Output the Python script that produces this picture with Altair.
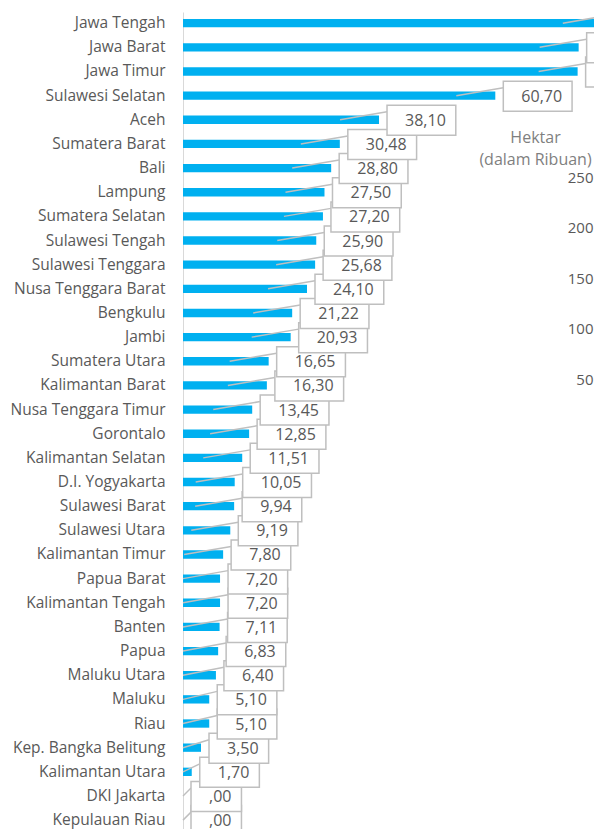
import altair as alt
import pandas as pd

provinces = [
    "Jawa Tengah", "Jawa Barat", "Jawa Timur", "Sulawesi Selatan", "Aceh",
    "Sumatera Barat", "Bali", "Lampung", "Sumatera Selatan", "Sulawesi Tengah",
    "Sulawesi Tenggara", "Nusa Tenggara Barat", "Bengkulu", "Jambi",
    "Sumatera Utara", "Kalimantan Barat", "Nusa Tenggara Timur", "Gorontalo",
    "Kalimantan Selatan", "D.I. Yogyakarta", "Sulawesi Barat", "Sulawesi Utara",
    "Kalimantan Timur", "Papua Barat", "Kalimantan Tengah", "Banten", "Papua",
    "Maluku Utara", "Maluku", "Riau", "Kep. Bangka Belitung",
    "Kalimantan Utara", "DKI Jakarta", "Kepulauan Riau",
]
values = [
    81.40, 76.90, 76.70, 60.70, 38.10,
    30.48, 28.80, 27.50, 27.20, 25.90,
    25.68, 24.10, 21.22, 20.93,
    16.65, 16.30, 13.45, 12.85,
    11.51, 10.05, 9.94, 9.19,
    7.80, 7.20, 7.20, 7.11, 6.83,
    6.40, 5.10, 5.10, 3.50,
    1.70, 0.00, 0.00,
]
hektar_ticks = [50, 100, 150, 200, 250]


def fmt(v):
    s = f"{v:.2f}".replace(".", ",")
    if s.startswith("0,"):
        s = s[1:]
    return s


labels = [fmt(v) for v in values]

# layout constants
PLOT_W = 411
PPU = 5.145               # pixels per data unit
X_MAX = PLOT_W / PPU
FONT = "Open Sans"
FS = 16
GREY_TXT = "#595959"
BOX_GREY = "#bfbfbf"
BAR_BLUE = "#00b0f0"


def text_w(s):
    return sum(0.26 * FS if c == "," else 0.572 * FS for c in s)


rows = []
for i, (p, v, l) in enumerate(zip(provinces, values, labels)):
    tw = text_w(l)
    rows.append(dict(
        prov=p, value=v, label=l, idx=i,
        box_x=v + 8 / PPU,
        box_x2=v + (8 + tw + 28) / PPU,
        text_x=v + (8 + tw + 18) / PPU,
        conn_x=max(v - 39 / PPU, 0.0),
    ))
df = pd.DataFrame(rows)
df_rev = df.iloc[::-1].reset_index(drop=True)

x_scale = alt.Scale(domain=[0, X_MAX], nice=False, zero=True)
y_scale = alt.Scale(range=[0, 819.3], paddingInner=0.655, paddingOuter=0.291)
y_axis = alt.Axis(
    title=None, ticks=False, tickSize=0, labelPadding=18, grid=False,
    domainColor="#d9d9d9", domainWidth=1, labelFont=FONT, labelFontSize=15.5,
    labelColor=GREY_TXT, labelLimit=300,
)


def y_enc():
    return alt.Y("prov:N", sort=provinces, scale=y_scale, axis=y_axis)


bars = alt.Chart(df).mark_bar(color=BAR_BLUE).encode(
    x=alt.X("value:Q", scale=x_scale, axis=None),
    y=y_enc(),
)

connectors = alt.Chart(df).mark_rule(
    color=BOX_GREY, strokeWidth=1.5, y2Offset=-8
).encode(
    x=alt.X("conn_x:Q", scale=x_scale, axis=None),
    x2="box_x:Q",
    y=y_enc(),
    y2="prov",
)

boxes = alt.Chart(df_rev).mark_bar(
    size=30, yOffset=0.5, fill="white", stroke=BOX_GREY, strokeWidth=1.5
).encode(
    x=alt.X("box_x:Q", scale=x_scale, axis=None),
    x2="box_x2:Q",
    y=y_enc(),
)

texts = alt.Chart(df).mark_text(
    align="right", baseline="middle", font=FONT, fontSize=FS, color=GREY_TXT, dy=1
).encode(
    x=alt.X("text_x:Q", scale=x_scale, axis=None),
    y=y_enc(),
    text="label:N",
)

main = alt.layer(bars, connectors, boxes, texts)

hek = pd.DataFrame({"h": hektar_ticks})
hek_layer = alt.Chart(hek).mark_point(opacity=0).encode(
    y=alt.Y(
        "h:Q",
        scale=alt.Scale(domain=[0, 250], range=[417.5, 165], nice=False),
        axis=alt.Axis(
            orient="right", values=hektar_ticks, domain=False, ticks=False,
            tickSize=0, grid=False, labelAlign="right", labelPadding=-1,
            labelFont=FONT, labelFontSize=15, labelColor=GREY_TXT,
            title=["Hektar", "(dalam Ribuan)"], titleAngle=0,
            titleAlign="center", titleBaseline="middle", titleX=-59,
            titleY=125, titleFont=FONT, titleFontSize=16,
            titleFontWeight="normal", titleColor="#7f7f7f",
            titleLineHeight=22.6,
        ),
    ),
)

chart = alt.layer(main, hek_layer).resolve_scale(y="independent").resolve_axis(
    y="independent"
).properties(
    width=PLOT_W,
    height=817,
    autosize=alt.AutoSizeParams(type="none"),
    padding={"left": 175, "top": 4, "right": 0, "bottom": 0},
    background="white",
).configure_view(stroke=None)

chart.save("out.html", embed_options={"renderer": "svg", "actions": False})
